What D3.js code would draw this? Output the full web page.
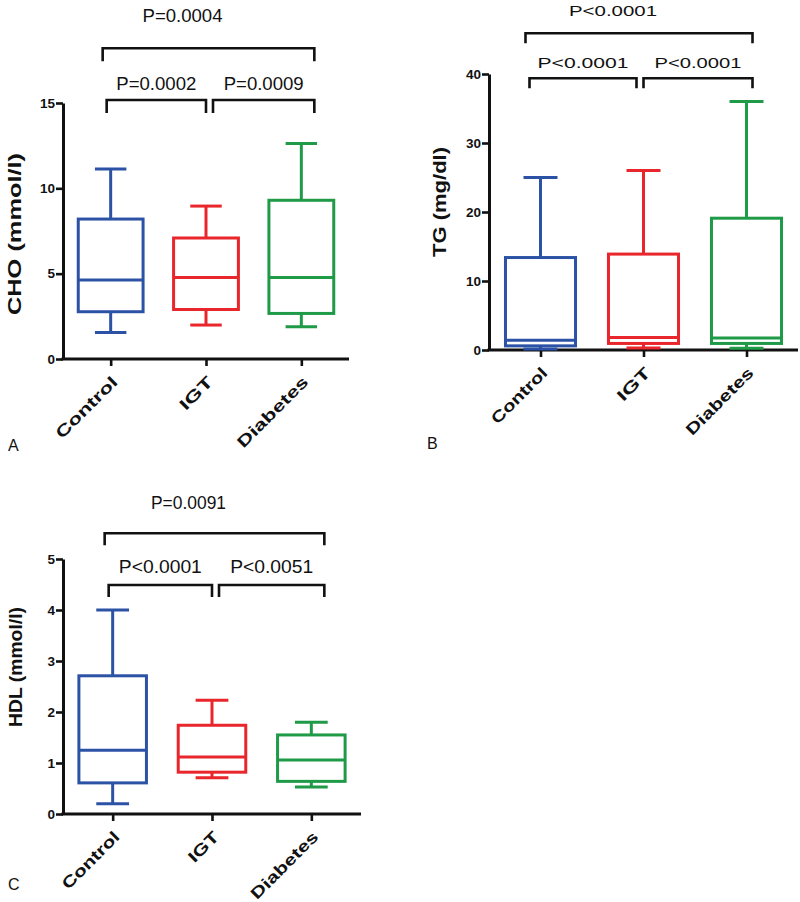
<!DOCTYPE html>
<html>
<head>
<meta charset="utf-8">
<script src="https://cdn.jsdelivr.net/npm/d3@7"></script>
<style>
  html, body { margin: 0; padding: 0; background: #fff; }
  svg { display: block; }
  text { font-family: "Liberation Sans", Arial, sans-serif; }
</style>
</head>
<body>
<svg id="chart" width="800" height="902"></svg>
<script>
// ---------------- DATA ----------------
const categories = ["Control", "IGT", "Diabetes"];
const groupColors = ["#2c52a6", "#e8262b", "#1f9a47"];

// Panel A: CHO (mmol/l)
const choMin = [1.56, 1.99, 1.89];
const choQ1  = [2.77, 2.90, 2.67];
const choMed = [4.63, 4.78, 4.78];
const choQ3  = [8.20, 7.09, 9.30];
const choMax = [11.13, 8.96, 12.63];
const choTicks = [0, 5, 10, 15];
const choP = ["P=0.0004", "P=0.0002", "P=0.0009"];

// Panel B: TG (mg/dl)
const tgMin = [0.15, 0.30, 0.25];
const tgQ1  = [0.60, 0.95, 0.95];
const tgMed = [1.40, 1.80, 1.75];
const tgQ3  = [13.4, 13.9, 19.1];
const tgMax = [25.0, 26.0, 36.0];
const tgTicks = [0, 10, 20, 30, 40];
const tgP = ["P<0.0001", "P<0.0001", "P<0.0001"];

// Panel C: HDL (mmol/l)
const hdlMin = [0.20, 0.71, 0.53];
const hdlQ1  = [0.61, 0.82, 0.64];
const hdlMed = [1.25, 1.12, 1.06];
const hdlQ3  = [2.71, 1.74, 1.55];
const hdlMax = [4.00, 2.23, 1.80];
const hdlTicks = [0, 1, 2, 3, 4, 5];
const hdlP = ["P=0.0091", "P<0.0001", "P<0.0051"];

// comparisons: [from group, to group] in same order as P labels
const comparisons = [[0, 2], [0, 1], [1, 2]];

// ---------------- LAYOUT ----------------
const svg = d3.select("#chart");
const FONT = '"Liberation Sans", Arial, sans-serif';

const panels = [
  {
    letter: "A", letterX: 8, letterY: 451,
    title: "CHO (mmol/l)", titleX: 21, titleCy: 234, titleLen: 162,
    x0: 63, x1: 349, yB: 359, yT: 103, domain: [0, 15], ticks: choTicks,
    mins: choMin, q1: choQ1, med: choMed, q3: choQ3, maxs: choMax, pLabels: choP,
    bracketY: [48.3, 100, 100], legs: 13, textY: [22, 90, 90], pFont: 18,
    pLen: [80, 80, 80], catLen: [80, 40, 93], shift: 0
  },
  {
    letter: "B", letterX: 427, letterY: 449,
    title: "TG (mg/dl)", titleX: 446, titleCy: 202, titleLen: 110,
    x0: 489, x1: 798, yB: 350, yT: 74, domain: [0, 40], ticks: tgTicks,
    mins: tgMin, q1: tgQ1, med: tgMed, q3: tgQ3, maxs: tgMax, pLabels: tgP,
    bracketY: [33.3, 78.3, 78.3], legs: 10, textY: [16, 68, 68], pFont: 15.5,
    pLen: [88, 91, 87], catLen: [72, 40, 88], shift: -7
  },
  {
    letter: "C", letterX: 8, letterY: 890,
    title: "HDL (mmol/l)", titleX: 22, titleCy: 667, titleLen: 120,
    x0: 63, x1: 361, yB: 814, yT: 559, domain: [0, 5], ticks: hdlTicks,
    mins: hdlMin, q1: hdlQ1, med: hdlMed, q3: hdlQ3, maxs: hdlMax, pLabels: hdlP,
    bracketY: [533.3, 585, 585], legs: 12, textY: [509, 573, 573], pFont: 18,
    pLen: [75, 83, 83], catLen: [74, 36, 88], shift: 0
  }
];

panels.forEach(p => {
  const g = svg.append("g");
  const x = d3.scalePoint().domain(categories).range([p.x0, p.x1]).padding(0.5);
  const y = d3.scaleLinear().domain(p.domain).range([p.yB, p.yT]);
  const step = x.step();

  // y axis
  const yAx = g.append("g")
    .attr("transform", `translate(${p.x0},0)`)
    .call(d3.axisLeft(y).tickValues(p.ticks).tickFormat(d3.format("d"))
      .tickSize(7).tickSizeOuter(0).tickPadding(1));
  // x axis
  const xAx = g.append("g")
    .attr("transform", `translate(0,${p.yB})`)
    .call(d3.axisBottom(x).tickSize(7).tickSizeOuter(0).tickFormat(""));
  [yAx, xAx].forEach(a => {
    a.select(".domain").attr("stroke", "#111").attr("stroke-width", 3);
    a.selectAll(".tick line").attr("stroke", "#111").attr("stroke-width", 2.6);
  });
  xAx.select(".domain").attr("d", `M${p.x0 - 1.5},0H${p.x1}`);
  yAx.selectAll(".tick text")
    .attr("font-family", FONT).attr("font-weight", "bold")
    .attr("font-size", 13.5).attr("fill", "#111");

  // category labels (rotated)
  g.selectAll("text.cat").data(categories).join("text")
    .attr("class", "cat")
    .attr("transform", d => `translate(${x(d) + 8},${p.yB + 24}) rotate(-45)`)
    .attr("text-anchor", "end")
    .attr("font-family", FONT).attr("font-weight", "bold").attr("font-size", 16)
    .attr("fill", "#111")
    .attr("textLength", (d, i) => p.catLen[i])
    .attr("lengthAdjust", "spacingAndGlyphs")
    .text(d => d);

  // y title
  g.append("text")
    .attr("transform", `translate(${p.titleX},${p.titleCy}) rotate(-90)`)
    .attr("text-anchor", "middle")
    .attr("font-family", FONT).attr("font-weight", "bold").attr("font-size", 18)
    .attr("fill", "#111")
    .attr("textLength", p.titleLen).attr("lengthAdjust", "spacingAndGlyphs")
    .text(p.title);

  // boxes
  const boxW = step * 0.68, capW = step * 0.33;
  categories.forEach((c, i) => {
    const cx = x(c), col = groupColors[i];
    const bg = g.append("g").attr("stroke", col).attr("stroke-width", 3).attr("fill", "none");
    // whiskers
    bg.append("line").attr("x1", cx).attr("x2", cx).attr("y1", y(p.q3[i])).attr("y2", y(p.maxs[i]));
    bg.append("line").attr("x1", cx).attr("x2", cx).attr("y1", y(p.q1[i])).attr("y2", y(p.mins[i]));
    bg.append("line").attr("x1", cx - capW / 2).attr("x2", cx + capW / 2).attr("y1", y(p.maxs[i])).attr("y2", y(p.maxs[i]));
    bg.append("line").attr("x1", cx - capW / 2).attr("x2", cx + capW / 2).attr("y1", y(p.mins[i])).attr("y2", y(p.mins[i]));
    // box
    bg.append("rect").attr("x", cx - boxW / 2).attr("width", boxW)
      .attr("y", y(p.q3[i])).attr("height", y(p.q1[i]) - y(p.q3[i]));
    // median
    bg.append("line").attr("x1", cx - boxW / 2).attr("x2", cx + boxW / 2)
      .attr("y1", y(p.med[i])).attr("y2", y(p.med[i]));
  });

  // brackets
  const offs = [[-8, 13], [-4, 0], [7, 13]];
  comparisons.forEach((cmp, k) => {
    const xa = x(categories[cmp[0]]) + offs[k][0] + p.shift;
    const xb = x(categories[cmp[1]]) + offs[k][1] + p.shift;
    const by = p.bracketY[k];
    g.append("path")
      .attr("d", `M${xa},${by + p.legs}V${by}H${xb}V${by + p.legs}`)
      .attr("fill", "none").attr("stroke", "#111").attr("stroke-width", 2.6);
    const tx = (xa + xb) / 2 + (k === 0 ? -26 : 0);
    g.append("text")
      .attr("x", tx).attr("y", p.textY[k])
      .attr("text-anchor", "middle")
      .attr("font-family", FONT).attr("font-size", p.pFont).attr("fill", "#111")
      .attr("textLength", p.pLen[k]).attr("lengthAdjust", "spacingAndGlyphs")
      .text(p.pLabels[k]);
  });

  // panel letter
  g.append("text").attr("x", p.letterX).attr("y", p.letterY)
    .attr("font-family", FONT).attr("font-size", 16).attr("fill", "#111")
    .text(p.letter);
});
</script>
</body>
</html>
